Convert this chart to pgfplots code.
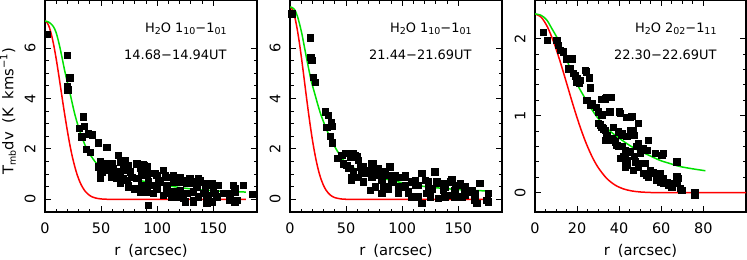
\documentclass[border=0pt]{standalone}
\usepackage{pgfplots}
\pgfplotsset{compat=1.18}
\usepackage{fontspec}
\setmainfont{DejaVu Sans}
\definecolor{pgred}{RGB}{255,0,0}
\definecolor{pggreen}{RGB}{0,225,0}
\newcommand\subx[1]{\raisebox{-0.32ex}{\fontsize{9.5}{10}\selectfont #1}}
\newcommand\supx[1]{\raisebox{0.75ex}{\fontsize{10}{10}\selectfont #1}}
\tikzset{ann/.style={anchor=base east, font=\fontsize{13}{15}\selectfont}}
\pgfplotsset{
 panel/.style={
  scale only axis, height=212bp, anchor=north west,
  tick align=inside, major tick length=6bp, minor tick length=3.5bp,
  every tick/.style={black, line width=0.9bp},
  axis line style={line width=1.1bp},
  tick label style={font=\fontsize{14.5}{17}\selectfont},
  label style={font=\fontsize{14.8}{17}\selectfont},
  /pgf/number format/assume math mode=true,
  xticklabel style={anchor=center, yshift=-16.5bp},
  yticklabel style={xshift=-15bp, rotate=90, anchor=center},
  xlabel={r\hspace{0.55em}(arcsec)},
  xlabel style={at={(axis description cs:0.5,-0.184)}, anchor=center},
 },
 pts/.style={only marks, mark=square*, mark size=3.2bp, black},
 redc/.style={pgred, line width=1.5bp, smooth, no marks},
 grnc/.style={pggreen, line width=1.5bp, smooth, no marks},
}
\begin{document}
\begin{tikzpicture}
\useasboundingbox (0,0) rectangle (747bp,-260bp);
% ---------------- panel 1
\begin{axis}[panel, at={(45bp,0)}, width=212bp,
  xmin=0, xmax=188.9, ymin=-0.5, ymax=7.9,
  xtick={0,50,100,150}, minor x tick num=4,
  ytick={0,2,4,6}, minor y tick num=3,
  ylabel={T\subx{mb}dv\hspace{0.6em}(K\hspace{0.6em}kms\supx{−1})},
  ylabel style={at={(axis description cs:-0.1745,0.475)}, anchor=center}]
\addplot[pts] table {
2.1 6.55
20.0 5.71
22.0 4.82
19.7 4.48
20.1 4.34
33.8 3.27
30.5 2.82
34.8 2.90
32.7 2.48
38.6 2.61
41.8 2.57
36.8 2.00
47.5 2.24
55.0 2.07
40.1 1.88
49.0 1.49
53.4 1.42
47.5 1.29
50.5 1.09
49.0 0.83
65.3 1.75
66.8 1.49
69.7 1.42
59.4 1.42
60.8 1.23
63.8 1.09
72.8 1.16
75.7 1.09
63.8 0.83
69.7 0.83
66.8 0.63
74.2 0.57
81.7 1.42
84.6 1.23
87.5 1.39
83.1 0.83
86.1 0.57
90.6 0.30
92.0 -0.23
71.2 1.56
69.7 1.29
74.2 1.36
84.6 1.36
90.6 1.29
89.0 1.03
105.3 1.16
99.5 0.96
108.4 0.89
92.0 0.70
96.4 0.57
100.9 0.76
108.4 0.57
114.2 0.70
118.7 0.83
121.7 0.70
126.2 0.76
129.1 0.63
133.6 0.70
138.0 0.70
144.0 0.57
149.9 0.50
154.3 0.57
167.7 0.57
176.6 0.57
169.2 0.43
108.4 0.24
114.2 0.10
123.1 0.04
132.1 -0.03
144.0 -0.03
152.9 0.10
161.8 0.24
169.2 -0.09
88.2 1.36
86.1 1.09
90.6 0.96
93.5 1.03
97.9 1.03
106.9 0.96
114.2 0.96
120.2 0.89
123.1 0.76
129.1 0.83
136.5 0.83
138.0 0.76
144.0 0.63
148.4 0.63
164.7 0.24
169.2 0.30
92.0 0.57
99.5 0.43
108.4 0.50
114.2 0.30
120.2 0.37
126.2 0.24
132.1 0.30
141.0 0.24
145.4 0.17
151.4 0.24
158.8 0.24
164.7 -0.03
170.7 -0.03
124.7 -0.09
132.1 -0.09
144.0 -0.16
148.4 -0.09
102.4 0.70
117.3 0.70
126.2 0.63
135.1 0.50
142.5 0.43
149.9 0.43
96.4 0.24
105.3 0.17
112.8 0.10
120.2 0.10
136.5 0.10
51.9 1.16
49.0 1.00
59.4 0.89
62.3 1.00
57.9 1.16
72.8 0.76
77.2 0.89
81.7 0.83
86.1 0.96
66.8 1.03
74.2 0.50
80.1 0.43
84.6 0.30
185.0 0.20
};
\addplot[redc] coordinates {(0,7.07)(2,7.00)(4,6.80)(6,6.48)(8,6.06)(10,5.56)(12,5.00)(14,4.41)(16,3.81)(18,3.24)(20,2.70)(22,2.20)(24,1.76)(26,1.39)(28,1.07)(30,0.81)(32,0.60)(34,0.44)(36,0.31)(38,0.22)(40,0.150)(42,0.100)(45,0.054)(50,0.017)(55,0.005)(60,0.001)(70,0)(179,0)};
\addplot[grnc] coordinates {(0,7.07)(3,7.03)(5,6.97)(7.4,6.85)(10,6.6)(13.4,6.0)(17.8,5.05)(22.3,4.2)(26.7,3.35)(31.2,2.68)(37,2.02)(44.5,1.5)(50,1.28)(55,1.15)(62,1.01)(70,0.89)(80,0.79)(90,0.70)(102,0.60)(120,0.47)(138,0.38)(156,0.33)(179,0.29)};
\node[ann] at (rel axis cs:0.873,0.846) {H\subx{2}O 1\subx{10}−1\subx{01}};
\node[ann] at (rel axis cs:0.873,0.719) {14.68−14.94UT};
\end{axis}
% ---------------- panel 2
\begin{axis}[panel, at={(290bp,0)}, width=212bp,
  xmin=0, xmax=188.9, ymin=-0.5, ymax=7.9,
  xtick={0,50,100,150}, minor x tick num=4,
  ytick={0,2,4,6}, minor y tick num=3]
\addplot[pts] table {
1.5 7.35
17.8 6.41
18.4 5.64
19.3 5.51
20.8 4.85
22.3 4.65
31.2 3.47
34.1 3.34
32.7 2.87
36.5 3.07
37.7 2.90
35.6 2.50
37.7 2.24
42.5 1.62
46.0 1.75
49.0 1.82
53.4 1.69
51.9 1.82
54.9 1.69
56.4 1.82
59.4 1.69
47.5 1.42
50.5 1.36
53.4 1.23
57.9 1.75
60.8 1.56
54.9 0.89
54.3 0.76
62.3 1.29
63.8 1.03
66.8 1.16
69.7 1.03
72.8 0.89
74.2 1.42
78.7 1.23
81.7 1.03
84.6 0.96
89.0 1.29
65.3 0.70
71.2 0.37
75.7 0.50
81.7 0.24
87.5 0.50
92.0 0.70
96.4 0.50
102.4 0.89
108.4 0.70
100.9 0.50
105.3 0.30
111.3 0.57
117.3 1.03
120.2 0.76
123.1 0.50
129.1 1.09
132.1 0.63
138.0 0.50
142.5 0.70
147.0 0.57
151.4 0.63
155.8 0.43
108.4 0.10
117.3 -0.16
121.7 0.24
138.0 0.10
152.9 0.10
164.7 -0.03
166.2 -0.16
169.2 0.63
175.2 -0.03
176.6 0.24
93.5 0.96
98.0 0.89
102.4 0.96
111.3 0.76
123.1 0.70
130.6 0.70
138.0 0.63
144.0 0.79
149.9 0.57
155.8 0.50
161.8 0.37
87.5 0.43
96.4 0.24
105.3 0.24
114.2 0.10
124.7 0.10
132.1 0.04
139.5 0.17
146.9 0.10
155.8 0.17
164.7 0.24
176.6 -0.09
90.5 0.70
102.4 0.57
114.2 0.57
126.2 0.43
136.5 0.37
146.9 0.37
158.8 0.30
51.9 1.23
56.4 1.09
60.8 0.89
65.3 1.29
68.1 1.16
72.8 1.42
74.2 1.09
78.7 0.96
81.7 0.76
83.1 0.50
84.6 1.09
87.5 0.96
90.5 0.89
};
\addplot[redc] coordinates {(0,7.62)(2,7.53)(4,7.27)(6,6.85)(8,6.31)(10,5.68)(12,4.99)(14,4.28)(16,3.59)(18,2.94)(20,2.35)(22,1.84)(24,1.40)(26,1.04)(28,0.76)(30,0.54)(32,0.375)(34,0.254)(36,0.169)(38,0.109)(40,0.069)(45,0.020)(50,0.005)(60,0)(179,0)};
\addplot[grnc] coordinates {(0,7.62)(2,7.60)(4.5,7.49)(7,7.2)(10.4,6.6)(13,6.0)(16.3,5.25)(19,4.68)(22.3,4.15)(25,3.72)(28.2,3.27)(34.1,2.61)(40,2.08)(45,1.72)(49,1.48)(56,1.26)(64,1.09)(74,0.95)(85,0.81)(94,0.72)(102,0.64)(120,0.51)(138,0.43)(156,0.37)(178,0.33)};
\node[ann] at (rel axis cs:0.873,0.846) {H\subx{2}O 1\subx{10}−1\subx{01}};
\node[ann] at (rel axis cs:0.873,0.719) {21.44−21.69UT};
\end{axis}
% ---------------- panel 3
\begin{axis}[panel, at={(535bp,0)}, width=211bp,
  xmin=0, xmax=100.3, ymin=-0.25, ymax=2.5,
  xtick={0,20,40,60,80}, minor x tick num=3,
  ytick={0,1,2}, minor y tick num=4]
\addplot[pts] table {
3.8 2.08
5.9 1.98
10.3 1.98
11.1 1.91
11.9 1.85
13.5 1.83
15.1 1.74
16.6 1.61
17.4 1.74
18.2 1.55
20.1 1.48
21.1 1.42
24.2 1.57
25.8 1.49
26.1 1.36
24.6 1.20
26.9 1.16
29.0 1.11
30.1 1.05
30.9 0.88
32.5 0.83
34.1 0.75
35.6 0.68
34.1 1.24
36.0 1.24
35.6 1.05
39.9 1.05
37.2 0.85
39.6 0.79
43.6 0.73
45.2 0.98
46.0 0.99
46.4 0.81
47.1 0.75
42.8 0.49
43.6 0.36
45.2 0.53
47.1 0.47
49.1 0.64
51.5 0.58
53.9 0.68
46.7 0.29
49.1 0.34
51.5 0.25
52.3 0.38
53.9 0.21
54.7 0.29
57.0 0.25
57.0 0.51
60.2 0.49
57.8 0.16
59.4 0.14
61.0 0.12
63.4 0.10
65.0 0.08
67.4 0.21
68.9 0.06
69.7 0.03
76.0 0.01
76.0 -0.03
33.3 1.22
40.4 1.03
49.1 0.90
31.7 1.01
33.3 0.68
37.2 0.68
41.2 0.77
46.0 0.77
38.8 0.62
41.2 0.60
42.8 0.55
40.4 0.45
42.8 0.40
47.5 0.40
48.3 0.60
49.9 0.51
53.1 0.55
49.9 0.38
53.1 0.23
56.2 0.27
59.4 0.25
61.0 0.19
62.6 0.14
64.2 0.10
65.8 0.12
67.4 0.12
68.1 0.19
61.0 0.51
67.4 0.40
15.8 1.61
19.0 1.52
19.8 1.44
21.4 1.46
23.8 1.59
26.1 1.14
31.7 1.21
30.1 0.90
31.7 0.85
33.3 0.81
34.1 0.70
36.5 0.70
38.0 0.66
39.6 0.60
41.2 0.75
42.0 0.47
43.6 0.42
42.8 0.34
43.6 0.98
45.2 0.81
};
\addplot[redc] coordinates {(0,2.32)(3,2.275)(6,2.146)(9,1.945)(12,1.697)(15,1.423)(18,1.147)(21,0.889)(24,0.663)(27,0.475)(30,0.328)(34,0.188)(38,0.1006)(42,0.050)(46,0.023)(50,0.010)(55,0.003)(60,0.001)(70,0)(100.3,0)};
\addplot[grnc] coordinates {(0,2.32)(3,2.30)(5.6,2.24)(8,2.13)(10.3,2.02)(12.7,1.88)(15.1,1.72)(17.5,1.57)(19.8,1.42)(22.2,1.30)(24.6,1.19)(27,1.08)(29.3,0.99)(32,0.90)(35.6,0.80)(40.4,0.70)(45.2,0.61)(49.9,0.54)(54.6,0.48)(59.4,0.42)(64,0.38)(68.9,0.34)(75,0.31)(81,0.285)};
\node[ann] at (rel axis cs:0.877,0.846) {H\subx{2}O 2\subx{02}−1\subx{11}};
\node[ann] at (rel axis cs:0.877,0.719) {22.30−22.69UT};
\end{axis}
\end{tikzpicture}
\end{document}
